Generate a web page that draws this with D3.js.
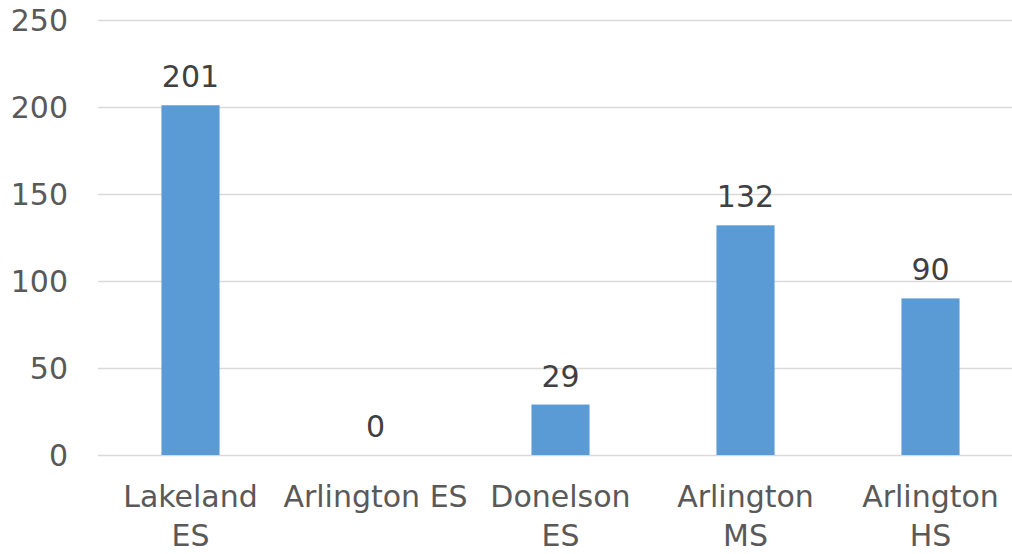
<!DOCTYPE html>
<html><head><meta charset="utf-8">
<script src="https://cdn.jsdelivr.net/npm/d3@7"></script>
<style>body{margin:0;background:#fff}svg{display:block}</style>
</head><body>
<script>
const categories = ["Lakeland ES", "Arlington ES", "Donelson ES", "Arlington MS", "Arlington HS"];
const categoryLines = [["Lakeland", "ES"], ["Arlington ES"], ["Donelson", "ES"], ["Arlington", "MS"], ["Arlington", "HS"]];
const values = [201, 0, 29, 132, 90];
const yTicks = [0, 50, 100, 150, 200, 250];

const W = 1012, H = 554;
const font = "'DejaVu Sans', sans-serif";
const fs = 30;
const svg = d3.select("body").append("svg").attr("width", W).attr("height", H);

const x = d3.scaleBand().domain(categories).range([98, 1023]).paddingInner(0.686).paddingOuter(0.343);
const y = d3.scaleLinear().domain([0, 250]).range([455, 20]);

const grid = svg.append("g");
grid.selectAll("line").data(yTicks).join("line")
  .attr("x1", 98).attr("x2", 1023)
  .attr("y1", d => Math.round(y(d)) + 0.5).attr("y2", d => Math.round(y(d)) + 0.5)
  .attr("stroke", "#d9d9d9").attr("stroke-width", 1.5);

const yAxis = svg.append("g").attr("transform", "translate(68,0)")
  .call(d3.axisLeft(y).tickValues(yTicks).tickSize(0).tickPadding(0));
yAxis.select(".domain").remove();
yAxis.selectAll("text").attr("font-family", font).attr("font-size", fs).attr("fill", "#595959").attr("dy", "0.36em");

svg.append("g").selectAll("rect").data(values).join("rect")
  .attr("x", (d, i) => x(categories[i]))
  .attr("width", x.bandwidth())
  .attr("y", d => y(d))
  .attr("height", d => y(0) - y(d))
  .attr("fill", "#5b9bd5");

svg.append("g").selectAll("text").data(values).join("text")
  .attr("x", (d, i) => x(categories[i]) + x.bandwidth() / 2)
  .attr("y", d => y(d) - 18)
  .attr("text-anchor", "middle")
  .attr("font-family", font).attr("font-size", fs).attr("fill", "#404040")
  .text(d => d);

const xl = svg.append("g").selectAll("text").data(categories).join("text")
  .attr("x", d => x(d) + x.bandwidth() / 2)
  .attr("y", 507)
  .attr("text-anchor", "middle")
  .attr("font-family", font).attr("font-size", fs).attr("fill", "#595959");
xl.each(function(d, i) {
  const t = d3.select(this);
  categoryLines[i].forEach((ln, j) => {
    t.append("tspan").attr("x", x(d) + x.bandwidth() / 2).attr("y", 507 + j * 39).text(ln);
  });
});
</script>
</body></html>
